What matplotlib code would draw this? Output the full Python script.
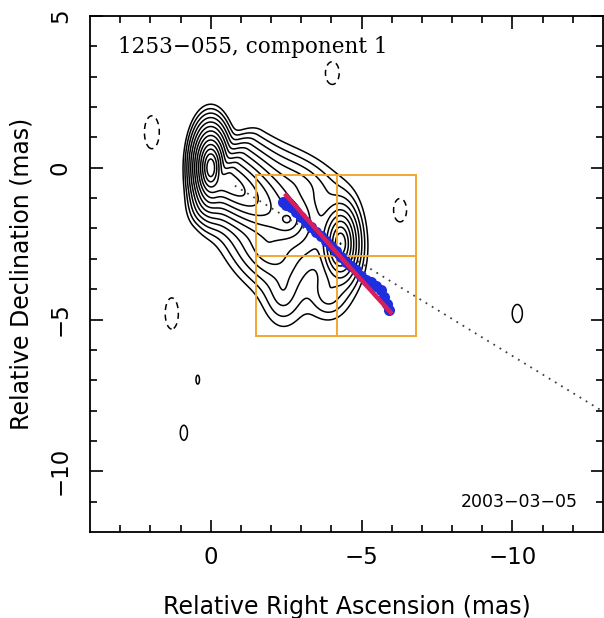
import numpy as np
import matplotlib
matplotlib.use("Agg")
import matplotlib.pyplot as plt

# ==========================================
# datos leidos del mapa (RA y Dec en mas)
# ==========================================

# componentes del chorro: perfil eliptico suave y asimetrico
# escalas: corriente abajo / arriba, lado norte / sur; angulo en grados
comp_ra = [0.0, -0.5, -1.9, -2.55, -4.3, -2.4, -3.9, -2.9]
comp_dec = [0.0, -0.45, -2.7, -1.7, -2.5, -4.0, -4.1, -0.5]
comp_flux = [8192, 900, 24, 100, 512, 6, 6, 8]
comp_a_abajo = [0.092, 0.62, 0.45, 0.18, 0.12, 0.25, 0.25, 0.55]
comp_a_arriba = [0.092, 0.12, 0.45, 0.18, 0.12, 0.25, 0.25, 0.55]
comp_b_norte = [0.21, 0.26, 0.32, 0.18, 0.25, 0.45, 0.33, 0.32]
comp_b_sur = [0.21, 0.22, 0.32, 0.18, 0.25, 0.45, 0.33, 0.32]
comp_ang = [0, 35, 45, 0, 0, 0, 0, 25]

# manchas aisladas (negativas = contorno a trazos)
blob_ra = [1.95, -4.03, -6.27, 1.29, -10.16, 0.43, 0.89]
blob_dec = [1.17, 3.12, -1.40, -4.80, -4.80, -6.98, -8.73]
blob_flux = [-1.5, -1.5, -1.5, -1.5, 1.5, 1.5, 1.5]
blob_a = [0.25, 0.23, 0.23, 0.22, 0.17, 0.06, 0.12]
blob_b = [0.55, 0.38, 0.41, 0.52, 0.30, 0.15, 0.25]

niveles = [2.0 ** k for k in range(13)]

# trayectoria del componente
tray_ra = [-2.39, -2.50, -2.66, -2.83, -2.99, -3.16, -3.32, -3.49, -3.65, -3.82,
           -3.98, -4.15, -4.31, -4.48, -4.64, -4.81, -4.97, -5.14, -5.30, -5.47,
           -5.63, -5.74, -5.85, -5.91]
tray_dec = [-1.13, -1.24, -1.29, -1.46, -1.62, -1.79, -1.95, -2.12, -2.26, -2.41,
            -2.59, -2.75, -2.94, -3.11, -3.25, -3.38, -3.55, -3.69, -3.77, -3.88,
            -4.04, -4.26, -4.48, -4.70]
ajuste_ra = [-2.50, -4.26, -5.96]
ajuste_dec = [-0.91, -2.89, -4.76]

# linea punteada (direccion del chorro)
linea_ra = [-0.8, -13.0]
linea_dec = [-0.59, -8.03]

# cuadricula naranja
caja_ra = [-1.5, -4.2, -6.8]
caja_dec = [-0.25, -2.9, -5.55]

# ==========================================
# mapa
# ==========================================

x = np.linspace(4, -13, 1000)
y = np.linspace(-12, 5, 1000)
X, Y = np.meshgrid(x, y)
Z = np.zeros_like(X)


def perfil(f, ra, dec, a_ab, a_ar, b_n, b_s, ang):
    t = np.radians(ang)
    dx = X - ra
    dy = Y - dec
    u = dx * np.cos(t) + dy * np.sin(t)
    v = -dx * np.sin(t) + dy * np.cos(t)
    a = np.where(u < 0, a_ab, a_ar)
    b = np.where(v > 0, b_n, b_s)
    r2 = (u / a) ** 2 + (v / b) ** 2
    return f * np.exp(1 - np.sqrt(1 + r2))


for i in range(len(comp_ra)):
    Z += perfil(comp_flux[i], comp_ra[i], comp_dec[i], comp_a_abajo[i],
                comp_a_arriba[i], comp_b_norte[i], comp_b_sur[i], comp_ang[i])
for i in range(len(blob_ra)):
    Z += perfil(blob_flux[i], blob_ra[i], blob_dec[i], blob_a[i], blob_a[i],
                blob_b[i], blob_b[i], 0)

fig = plt.figure(figsize=(6.04, 6.18), dpi=100)
ax = fig.add_axes([90 / 604, 86 / 618, 513 / 604, 516 / 618])

ax.contour(X, Y, Z, levels=niveles, colors="k", linewidths=1.1)
ax.contour(X, Y, Z, levels=[-1.0], colors="k", linewidths=1.1,
           linestyles=[(0, (4, 3))])

ax.plot(linea_ra, linea_dec, color="0.25", lw=1.3, ls=(0, (1, 3)))

for ra in caja_ra:
    ax.plot([ra, ra], [caja_dec[0], caja_dec[-1]], color="#f0a830", lw=1.4)
for dec in caja_dec:
    ax.plot([caja_ra[0], caja_ra[-1]], [dec, dec], color="#f0a830", lw=1.4)

ax.plot(tray_ra, tray_dec, "o", color="#1f2fe0", ms=8, mec="none")
ax.plot(ajuste_ra, ajuste_dec, color="#d81e5b", lw=3.2)

ax.set_xlim(4, -13)
ax.set_ylim(-12, 5)
ax.set_xticks([0, -5, -10])
ax.set_yticks([5, 0, -5, -10])
ax.set_xticks(np.arange(3, -13, -1), minor=True)
ax.set_yticks(np.arange(-11, 5, 1), minor=True)
ax.tick_params(which="both", direction="in", top=True, right=True,
               labelsize=16.5, width=1.2)
ax.tick_params(which="major", length=9)
ax.tick_params(axis="x", which="major", pad=10)
ax.tick_params(axis="y", which="major", pad=13)
ax.tick_params(which="minor", length=5)
for lab in ax.get_yticklabels():
    lab.set_rotation(90)
    lab.set_va("center")
for s in ax.spines.values():
    s.set_linewidth(1.3)

ax.set_xlabel("Relative Right Ascension (mas)", fontsize=17, labelpad=19)
ax.set_ylabel("Relative Declination (mas)", fontsize=17, labelpad=11)

ax.text(0.055, 0.94, "1253\u2212055, component 1", transform=ax.transAxes,
        family="DejaVu Serif", fontsize=15.5, va="center", ha="left")
ax.text(0.95, 0.058, "2003\u221203\u221205", transform=ax.transAxes,
        fontsize=12.5, va="center", ha="right")

fig.savefig("out.png", dpi=100)
